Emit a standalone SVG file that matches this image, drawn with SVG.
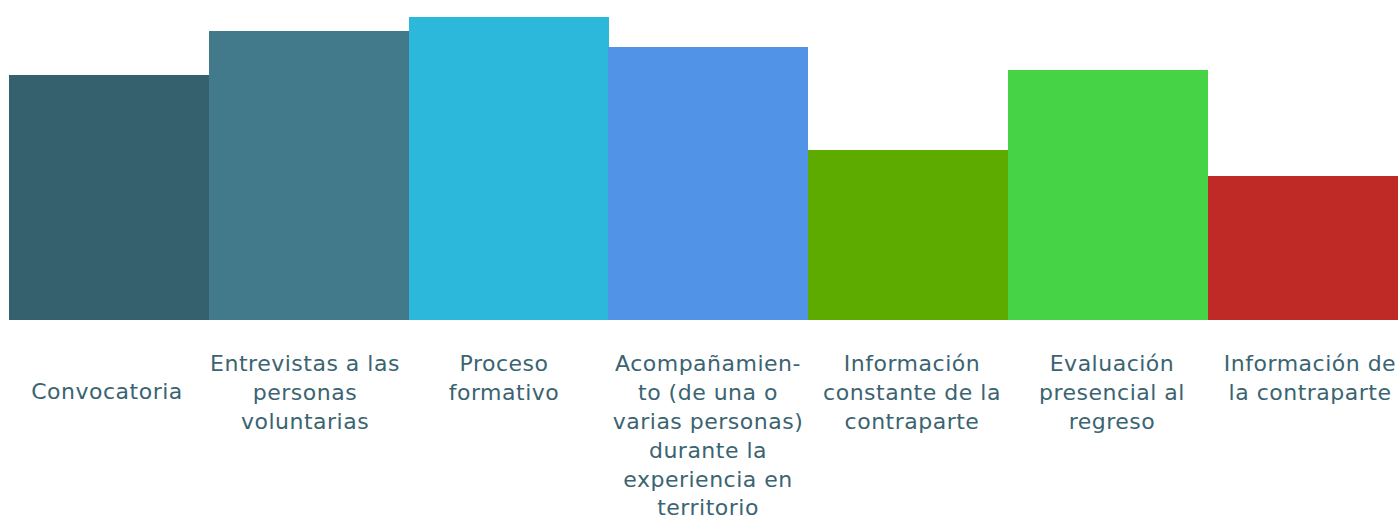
<svg xmlns="http://www.w3.org/2000/svg" width="1398" height="517" viewBox="0 0 1398 517">
<style>
text { font-family: "DejaVu Sans", Verdana, sans-serif; font-size: 22px; letter-spacing: 0.5px; fill: #3a6471; text-anchor: middle; }
</style>
<rect width="1398" height="517" fill="#ffffff"/>
<g id="bar1"><rect x="9" y="75" width="200" height="245" fill="#35616e"/><text x="107" y="399">Convocatoria</text></g>
<g id="bar2"><rect x="209" y="31" width="200" height="289" fill="#427a8c"/><text x="305" y="371">Entrevistas a las</text><text x="305" y="400">personas</text><text x="305" y="429">voluntarias</text></g>
<g id="bar3"><rect x="409" y="17" width="200" height="303" fill="#2bb8db"/><text x="504" y="371">Proceso</text><text x="504" y="400">formativo</text></g>
<g id="bar4"><rect x="608" y="47" width="200" height="273" fill="#5193e6"/><text x="708" y="371">Acompañamien-</text><text x="708" y="400">to (de una o</text><text x="708" y="429">varias personas)</text><text x="708" y="458">durante la</text><text x="708" y="487">experiencia en</text><text x="708" y="515">territorio</text></g>
<g id="bar5"><rect x="808" y="150" width="200" height="170" fill="#5eab00"/><text x="912" y="371">Información</text><text x="912" y="400">constante de la</text><text x="912" y="429">contraparte</text></g>
<g id="bar6"><rect x="1008" y="70" width="200" height="250" fill="#46d346"/><text x="1112" y="371">Evaluación</text><text x="1112" y="400">presencial al</text><text x="1112" y="429">regreso</text></g>
<g id="bar7"><rect x="1208" y="176" width="190" height="144" fill="#bf2a27"/><text x="1310" y="371">Información de</text><text x="1310" y="400">la contraparte</text></g>
<g id="connectors"></g>
</svg>
